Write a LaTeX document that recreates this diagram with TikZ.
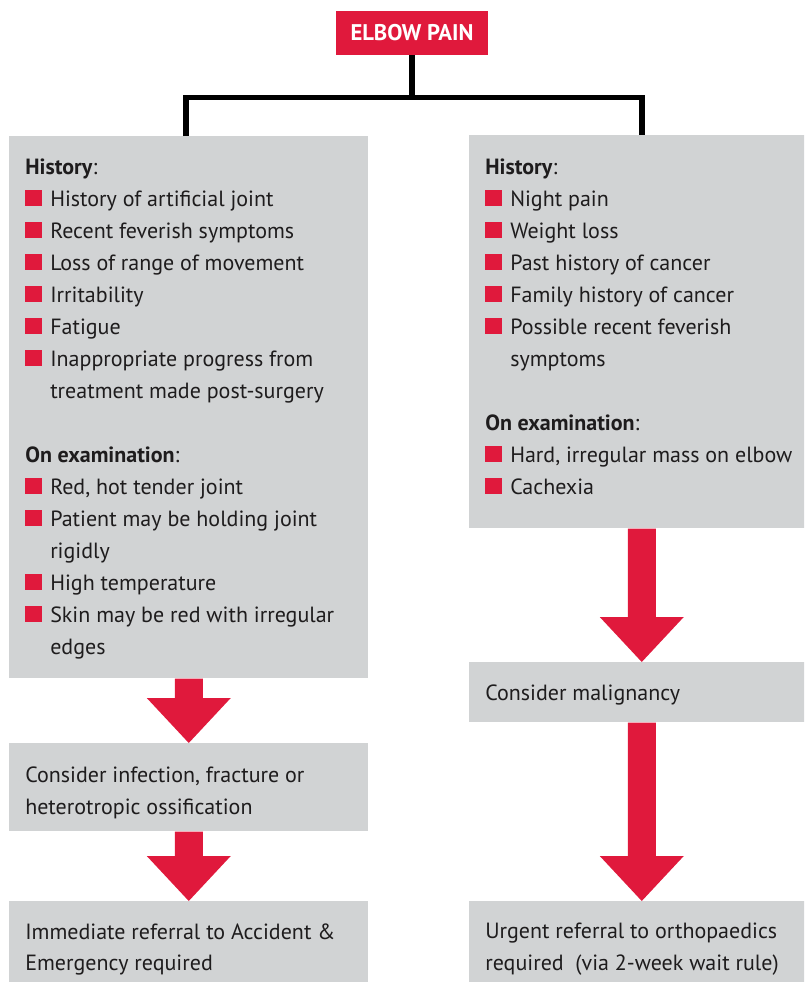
\documentclass[tikz,border=0pt]{standalone}
\usepackage{fontspec}
\setmainfont{PT Sans}
\usetikzlibrary{calc}
\definecolor{ered}{RGB}{224,25,60}
\definecolor{bgray}{RGB}{209,211,212}
\definecolor{ink}{RGB}{30,28,29}
\newcommand\bul{\textcolor{ered}{\rule{12.75pt}{12pt}}\hspace{6pt}}
\newcommand\fatarrow[2]{%
  \fill[ered] let \p1=(#1.south), \p2=(#2.north) in
    (\x1-10.5pt,\y1) -- (\x1+10.5pt,\y1) -- (\x1+10.5pt,\y2+33.75pt)
    -- (\x1+31.5pt,\y2+33.75pt) -- (\x1,\y2) -- (\x1-31.5pt,\y2+33.75pt)
    -- (\x1-10.5pt,\y2+33.75pt) -- cycle;}
\tikzset{
  box/.style={fill=bgray, draw=none, inner sep=0pt, anchor=north west},
  txt/.style={inner sep=0pt, anchor=base west, text=ink,
    font=\fontsize{16.5pt}{20pt}\selectfont},
  conn/.style={draw=black, line width=4.1pt, line join=miter},
}
\begin{document}
\begin{tikzpicture}[x=0.75pt, y=-0.75pt]
\useasboundingbox (0,0) rectangle (804,982);
\clip (0,0) rectangle (804,982);
% title
\node[fill=ered, text=white, inner sep=0pt, minimum width=114pt, minimum height=33pt,
  font=\bfseries\fontsize{17pt}{20pt}\selectfont] (title) at (412,33) {ELBOW PAIN};
% boxes
\node[box, minimum width=269.25pt, minimum height=406.5pt] (L1) at (9,136) {};
\node[box, minimum width=269.25pt, minimum height=66pt] (L2) at (9,743) {};
\node[box, minimum width=269.25pt, minimum height=66.75pt] (L3) at (9,901) {};
\node[box, minimum width=258.75pt, minimum height=294.75pt] (R1) at (469,135) {};
\node[box, minimum width=258.75pt, minimum height=45pt] (R2) at (469,662) {};
\node[box, minimum width=258.75pt, minimum height=66.75pt] (R3) at (469,901) {};
% connectors
\draw[conn] (title.south) -- ++(0,42) coordinate (j);
\draw[conn] ([xshift=-2.25pt]L1.north) -- ([xshift=-2.25pt]L1.north |- j) -- (R1.north |- j) -- (R1.north);
% arrows
\fatarrow{L1}{L2}
\fatarrow{L2}{L3}
\fatarrow{R1}{R2}
\fatarrow{R2}{R3}
% left column text
\node[txt] (lh1) at (25,174) {\textbf{History}:};
\node[txt] (la1) at (25,206) {\bul History of artificial joint};
\node[txt] (la2) at (25,238) {\bul Recent feverish symptoms};
\node[txt] (la3) at (25,270) {\bul Loss of range of movement};
\node[txt] (la4) at (25,302) {\bul Irritability};
\node[txt] (la5) at (25,334) {\bul Fatigue};
\node[txt] (la6) at (25,366) {\bul Inappropriate progress from};
\node[txt] (la6b) at (50,398) {treatment made post-surgery};
\node[txt] (lh2) at (25,462) {\textbf{On examination}:};
\node[txt] (lb1) at (25,494) {\bul Red, hot tender joint};
\node[txt] (lb2) at (25,526) {\bul Patient may be holding joint};
\node[txt] (lb2b) at (50,558) {rigidly};
\node[txt] (lb3) at (25,590) {\bul High temperature};
\node[txt] (lb4) at (25,622) {\bul Skin may be red with irregular};
\node[txt] (lb4b) at (50,654) {edges};
% right column text
\node[txt] (rh1) at (485,174) {\textbf{History}:};
\node[txt] (ra1) at (485,206) {\bul Night pain};
\node[txt] (ra2) at (485,238) {\bul Weight loss};
\node[txt] (ra3) at (485,270) {\bul Past history of cancer};
\node[txt] (ra4) at (485,302) {\bul Family history of cancer};
\node[txt] (ra5) at (485,334) {\bul Possible recent feverish};
\node[txt] (ra5b) at (510,366) {symptoms};
\node[txt] (rh2) at (485,430) {\textbf{On examination}:};
\node[txt] (rb1) at (485,462) {\bul Hard, irregular mass on elbow};
\node[txt] (rb2) at (485,494) {\bul Cachexia};
% lower boxes text
\node[txt] (l2a) at (25,782) {Consider infection, fracture or};
\node[txt] (l2b) at (25,814) {heterotropic ossification};
\node[txt] (l3a) at (25,939) {Immediate referral to Accident \&};
\node[txt] (l3b) at (25,970) {Emergency required};
\node[txt] (r2a) at (485,700) {Consider malignancy};
\node[txt] (r3a) at (485,938) {Urgent referral to orthopaedics};
\node[txt] (r3b) at (485,970) {required\ \ (via 2-week wait rule)};
\end{tikzpicture}
\end{document}
